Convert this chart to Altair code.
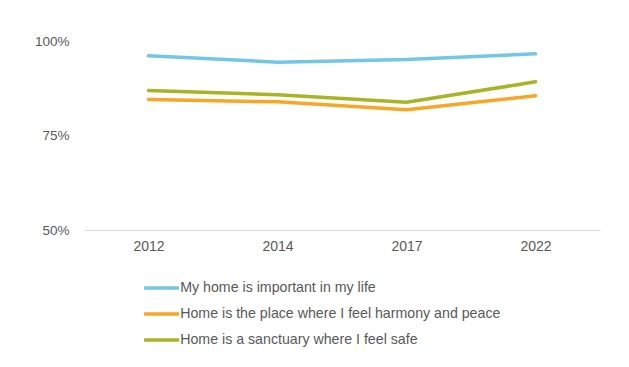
import altair as alt
import pandas as pd

years = ["2012", "2014", "2017", "2022"]
series = [
    "My home is important in my life",
    "Home is the place where I feel harmony and peace",
    "Home is a sanctuary where I feel safe",
]
important = [96.1, 94.4, 95.1, 96.6]
harmony = [84.5, 83.9, 81.8, 85.5]
sanctuary = [86.9, 85.8, 83.8, 89.2]
colors = ["#72C7E7", "#F8A623", "#A8B424"]

rows = []
for name, vals in zip(series, [important, harmony, sanctuary]):
    for y, v in zip(years, vals):
        rows.append({"year": y, "value": v, "series": name})
df = pd.DataFrame(rows)

chart = alt.Chart(df).mark_line(strokeWidth=3.5, strokeCap="round").encode(
    x=alt.X("year:O", sort=years, title=None,
            scale=alt.Scale(type="point", padding=0.5),
            axis=alt.Axis(labelAngle=0, ticks=False, domainColor="#d9d9d9",
                          labelColor="#595959", labelFontSize=14, labelPadding=9,
                          labelFont="Liberation Sans", grid=False)),
    y=alt.Y("value:Q", title=None,
            scale=alt.Scale(domain=[50, 100]),
            axis=alt.Axis(values=[50, 75, 100], labelExpr="datum.value + '%'",
                          ticks=False, domain=False, grid=False,
                          labelColor="#595959", labelFontSize=13.5, labelPadding=15,
                          labelFont="Liberation Sans")),
    color=alt.Color("series:N", sort=series, title=None,
                    scale=alt.Scale(domain=series, range=colors),
                    legend=alt.Legend(orient="none", legendX=70.5, legendY=240,
                                      direction="vertical",
                                      symbolType="M-3.5,0H3.5",
                                      symbolSize=100, symbolStrokeWidth=3.5,
                                      labelFontSize=14.2, labelColor="#595959",
                                      labelFont="Liberation Sans", labelOffset=11.5,
                                      rowPadding=11, labelLimit=500)),
).properties(
    width=516, height=189,
    padding={"left": 26, "top": 26, "right": 5, "bottom": 5},
).configure_view(stroke=None)

chart.save("out.html", embed_options={"renderer": "svg", "actions": False})
